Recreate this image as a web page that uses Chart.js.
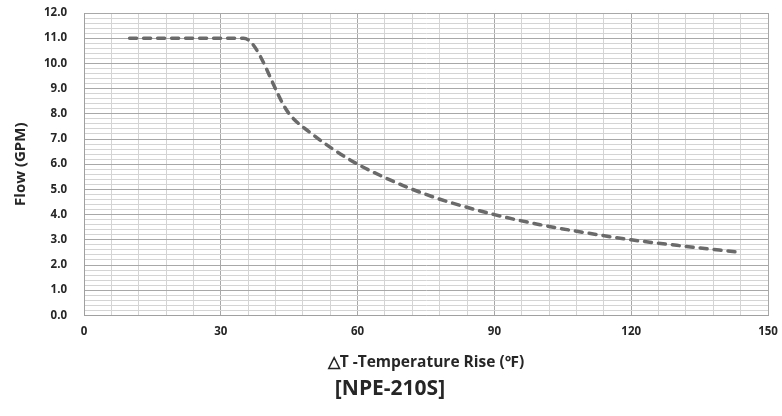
<!DOCTYPE html>
<html>
<head>
<meta charset="utf-8">
<script src="https://cdn.jsdelivr.net/npm/chart.js@4/dist/chart.umd.min.js"></script>
<style>
  html, body { margin: 0; padding: 0; background: #fff; }
  #wrap { width: 782px; height: 416px; }
</style>
</head>
<body>
<div id="wrap"><canvas id="flowChart" width="782" height="416"></canvas></div>
<script>
// ΔT (°F) vs flow (GPM)
const tempRise = [10, 35, 45, 50, 55, 60, 65, 70, 75, 80, 90, 100, 110, 120, 130, 144];
const flowGpm = [11.0, 11.0, 8.0, 7.2, 6.55, 6.0, 5.55, 5.15, 4.8, 4.5, 4.0, 3.6, 3.28, 3.0, 2.78, 2.5];

const xLabelEvery = 30;
const yLabelEvery = 1;

const fontFamily = "'Open Sans', 'Noto Sans', sans-serif";

function isMultiple(value, step) {
  const q = value / step;
  return Math.abs(q - Math.round(q)) < 1e-6;
}

new Chart(document.querySelector("#flowChart"), {
  type: "line",
  data: {
    datasets: [{
      label: "Flow",
      data: tempRise.map((x, i) => ({ x, y: flowGpm[i] })),
      borderColor: "#6a6a6a",
      borderWidth: 3.5,
      borderDash: [7, 7],
      borderCapStyle: "round",
      borderJoinStyle: "round",
      pointRadius: 0,
      cubicInterpolationMode: "monotone",
      fill: false,
    }],
  },
  options: {
    responsive: false,
    animation: false,
    layout: { padding: { left: 12, right: 14, top: 13, bottom: 0 } },
    plugins: {
      legend: { display: false },
      tooltip: { enabled: false },
      title: {
        display: true,
        position: "bottom",
        text: "[NPE-210S]",
        color: "#262626",
        font: { family: fontFamily, size: 21, weight: "bold" },
        padding: { top: 0, bottom: 14 },
      },
    },
    scales: {
      x: {
        type: "linear",
        min: 0,
        max: 150,
        afterFit: (scale) => { scale.paddingRight = 0; scale.paddingLeft = 0; },
        ticks: {
          stepSize: 6,
          autoSkip: false,
          maxRotation: 0,
          padding: 9,
          color: "#262626",
          font: { family: fontFamily, size: 11.5, weight: "bold" },
          callback: (value) => (isMultiple(value, xLabelEvery) ? String(value) : ""),
        },
        grid: {
          drawTicks: false,
          color: (ctx) => (isMultiple(ctx.tick.value, xLabelEvery) ? "#a8a8a8" : "#d4d4d4"),
          lineWidth: 1,
        },
        border: { color: "#a0a0a0" },
        title: {
          display: true,
          text: "△T -Temperature Rise (℉)",
          color: "#262626",
          font: { family: fontFamily, size: 15.5, weight: "bold" },
          padding: { top: 6, bottom: 5 },
        },
      },
      y: {
        min: 0,
        max: 12,
        afterFit: (scale) => { scale.width = 72; scale.paddingTop = 0; scale.paddingBottom = 0; },
        ticks: {
          stepSize: 0.2,
          autoSkip: false,
          padding: 17,
          color: "#262626",
          font: { family: fontFamily, size: 11.5, weight: "bold" },
          callback: (value) => (isMultiple(value, yLabelEvery) ? Number(value).toFixed(1) : ""),
        },
        grid: {
          drawTicks: false,
          color: (ctx) => (isMultiple(ctx.tick.value, yLabelEvery) ? "#a8a8a8" : "#d4d4d4"),
          lineWidth: 1,
        },
        border: { color: "#a0a0a0" },
        title: {
          display: true,
          text: "Flow (GPM)",
          color: "#262626",
          font: { family: fontFamily, size: 15, weight: "bold" },
          padding: { top: 0, bottom: 0 },
        },
      },
    },
  },
});
</script>
</body>
</html>
